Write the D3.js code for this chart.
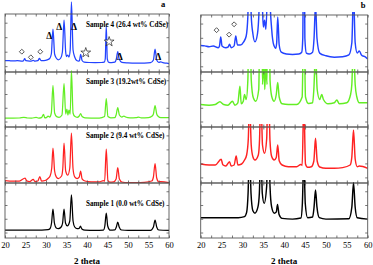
<!DOCTYPE html>
<html>
<head>
<meta charset="utf-8">
<script src="https://cdn.jsdelivr.net/npm/d3@7"></script>
<style>
  body { margin: 0; background: #fff; }
  svg { display: block; }
  text { font-family: "Liberation Serif", "Times New Roman", serif; }
</style>
</head>
<body>
<svg id="chart" width="373" height="265"></svg>
<script>
// tick labels of the 2 theta axis
const xTicks = [20, 25, 30, 35, 40, 45, 50, 55, 60];

// panels top to bottom
const sampleNames = [
  'Sample 4 (26.4 wt% CdSe)',
  'Sample 3 (19.2wt% CdSe)',
  'Sample 2 (9.4 wt% CdSe)',
  'Sample 1 (0.0 wt% CdSe)'
];
const sampleColors = ['#2343ff', '#63ee24', '#ff2222', '#000000'];

// [2 theta, intensity]
const sample4 = [[20,11.4],[21,11.3],[22,11.1],[23,11.3],[24.2,10.9],[24.5,11.3],[24.8,13.3],[25.1,11.3],[26,10.9],[26.6,11.1],[26.9,11.7],[27.3,10.9],[28,11.3],[28.4,13.5],[28.8,11.5],[29.5,11.5],[30.3,12.2],[30.9,13.5],[31.3,18],[31.7,43],[32.1,18],[32.5,14],[33,12.2],[33.6,14],[34,20],[34.4,52],[34.8,20],[35,15.5],[35.3,17],[35.6,15],[35.9,22],[36.2,70],[36.6,22],[37,15],[37.5,11.5],[38,10.8],[38.2,12],[38.45,17.7],[38.8,11.5],[39.3,9.9],[40.5,9.5],[42,9.4],[43.5,9.5],[44.2,9.9],[44.45,13],[44.7,46],[44.95,13],[45.3,9.7],[46,9.5],[46.8,9.9],[47.15,13],[47.5,20.5],[47.85,13],[48.5,9.7],[50,9.1],[52,8.8],[54,8.9],[55.5,9.3],[56.2,12],[56.6,23],[57,12],[57.5,9.7],[58,10.2],[58.5,9.3],[59.5,8.8],[60,8.4]];
const sample3 = [[20,9],[22,8.86],[23.5,9],[24.6,9.54],[25.5,9],[26.5,8.86],[27.6,9.66],[28.2,8.86],[28.9,9.34],[29.4,12.66],[29.7,9.14],[30.2,9.66],[30.5,11],[30.9,10],[31.3,14],[31.7,41.5],[32.1,14],[32.6,10.34],[33.2,9.66],[33.9,12],[34.4,43.5],[34.8,13],[35.1,18],[35.35,12],[35.6,17],[35.9,13],[36.2,56.5],[36.6,14],[37,10.66],[37.6,9.66],[38.1,11],[38.45,13.4],[38.8,10.5],[39.5,9.14],[41,9],[43,9],[44.3,10.5],[44.7,28.5],[45.1,10.5],[45.8,9.2],[46.8,9.34],[47.1,12],[47.5,19.5],[47.9,12],[48.5,10],[49,11],[49.4,10],[50.5,9.14],[52,9.34],[52.6,9.9],[53.2,9.14],[55,9.34],[55.9,11],[56.2,13],[56.6,21.5],[57,13],[57.4,10.5],[58,9.34],[60,9.34]];
const sample2 = [[20,2.5],[22,2],[23.5,2],[24.9,4.85],[25.3,2.15],[26,1.5],[26.9,3.65],[27.3,1.5],[28,2],[28.5,6.5],[28.9,2],[29.8,2.5],[30.5,4.5],[31,7],[31.4,15],[31.7,35],[32.1,12],[32.5,6.15],[33,4.5],[33.8,7],[34.1,15],[34.4,40],[34.8,12],[35.3,7.85],[35.8,15],[36.2,50],[36.6,14],[37,6.2],[37.6,4.5],[38.1,5.8],[38.45,12],[38.8,4.15],[39.5,2],[41,1.15],[43,1.15],[44,2.3],[44.3,1.8],[44.7,34],[45.1,2.5],[45.6,0.85],[46.5,1.15],[47.1,4],[47.5,15.35],[47.9,4],[48.5,1],[50,0.35],[52,0.35],[54,0.7],[55.8,2],[56.2,6],[56.6,19.5],[57,5],[57.5,1.15],[58,1.5],[60,0.35]];
const sample1 = [[20,8],[25,8],[29,8],[30.5,8.3],[31,9.5],[31.35,15],[31.7,29],[32.05,15],[32.5,10],[33,9.3],[33.7,11],[34.05,15],[34.4,29],[34.75,15],[35.2,12.1],[35.8,17],[36.2,43],[36.6,17],[37,11],[37.6,9.3],[38.1,9.6],[38.4,11.8],[38.75,9],[39.5,7.8],[42,7.6],[44,7.9],[44.35,12],[44.7,25],[45.05,12],[45.6,8],[46.8,8.2],[47.15,11],[47.5,15.9],[47.85,11],[48.4,8],[50,7.6],[55.5,7.7],[56.2,11],[56.6,18],[57,11],[57.5,8],[60,7.6]];
const samples = [sample4, sample3, sample2, sample1];

// phase markers on sample 4, [2 theta, intensity]
const diamondsA = [[24.1,20.3],[26.3,14.7],[28.6,20.3]];
const deltasA = [[30.8,37],[33.2,46],[36.8,46],[48.0,16],[57.4,16]];
const starsA = [[39.7,19.3],[45.4,30.3]];
const diamondsB = [[23.8,14.8],[26.8,13.8],[28.0,16.1]];

const svg = d3.select('#chart');

const panels = [
  { x0: 5, x1: 169, rows: [[14, 72], [72, 127], [127, 183], [183, 238]], letter: 'a', lx: 163, ly: 6.5 },
  { x0: 200.7, x1: 367.7, rows: [[15, 72], [72, 127], [127, 183], [183, 238]], letter: 'b', lx: 363, ly: 8 }
];
// vertical magnification used for panel b (per sample)
const zoomB = [{ m: 4.5, c: 5.5 }, { m: 5, c: 4.5 }, { m: 2, c: -7 }, { m: 3.5, c: 2.2 }];
const labelY = [26.5, 84, 138, 205.7];

panels.forEach((p, pi) => {
  const x = d3.scaleLinear().domain([20, 60]).range([p.x0, p.x1]);
  const g = svg.append('g');

  p.rows.forEach(([top, bottom], ri) => {
    const h = bottom - top;
    const y = pi === 0 ?
      d3.scaleLinear().domain([0, h]).range([bottom, top]) :
      d3.scaleLinear().domain([zoomB[ri].c, zoomB[ri].c + h / zoomB[ri].m]).range([bottom, top]);

    const clipId = `clip-${pi}-${ri}`;
    svg.append('clipPath').attr('id', clipId)
      .append('rect')
      .attr('x', p.x0).attr('y', pi === 0 ? 0 : top - 3)
      .attr('width', p.x1 - p.x0).attr('height', pi === 0 ? bottom : bottom - top + 3);

    const line = d3.line()
      .x(d => x(d[0]))
      .y(d => y(d[1]))
      .curve(d3.curveMonotoneX);

    g.append('path')
      .datum(samples[ri])
      .attr('clip-path', `url(#${clipId})`)
      .attr('fill', 'none')
      .attr('stroke', sampleColors[ri])
      .attr('stroke-width', pi === 0 ? 1.25 : 1.45)
      .attr('stroke-linejoin', 'round')
      .attr('d', line);

    // frame and inward ticks
    g.append('rect')
      .attr('x', p.x0).attr('y', top)
      .attr('width', p.x1 - p.x0).attr('height', h)
      .attr('fill', 'none').attr('stroke', '#555').attr('stroke-width', 0.9);

    const minor = d3.range(20, 60.01, 2.5);
    g.append('g').attr('transform', `translate(0,${bottom})`)
      .call(d3.axisTop(x).tickValues(minor).tickSize(2.5).tickFormat(''));
    g.append('g').attr('transform', `translate(0,${top})`)
      .call(d3.axisBottom(x).tickValues(minor).tickSize(2.5).tickFormat(''));

    const yt = d3.range(4).map(k => y.invert(bottom - (k + 0.4) * h / 4));
    g.append('g').attr('transform', `translate(${p.x0},0)`)
      .call(d3.axisRight(y).tickValues(yt).tickSize(2.5).tickFormat(''));
    g.append('g').attr('transform', `translate(${p.x1},0)`)
      .call(d3.axisLeft(y).tickValues(yt).tickSize(2.5).tickFormat(''));

    if (pi === 0) {
      g.append('text')
        .attr('x', 86).attr('y', labelY[ri])
        .attr('font-size', 7.2).attr('font-weight', 'bold')
        .text(sampleNames[ri]);
    }

    if (ri === 0) {
      const dia = pi === 0 ? diamondsA : diamondsB;
      g.selectAll(null).data(dia).enter().append('path')
        .attr('d', d3.symbol(d3.symbolSquare, 12))
        .attr('transform', d => `translate(${x(d[0])},${y(d[1])}) rotate(45)`)
        .attr('fill', '#fff').attr('stroke', '#222').attr('stroke-width', 0.7);
      if (pi === 0) {
        g.selectAll(null).data(deltasA).enter().append('text')
          .attr('x', d => x(d[0])).attr('y', d => y(d[1]) + 3.5)
          .attr('text-anchor', 'middle')
          .attr('font-size', 9.5).attr('font-weight', 'bold')
          .text('Δ');
        g.selectAll(null).data(starsA).enter().append('path')
          .attr('d', d3.symbol(d3.symbolStar, 30))
          .attr('transform', d => `translate(${x(d[0])},${y(d[1])})`)
          .attr('fill', '#fff').attr('stroke', '#222').attr('stroke-width', 0.7);
      }
    }
  });

  g.selectAll('.domain').remove();
  g.selectAll('.tick line').attr('stroke', '#555').attr('stroke-width', 0.8);

  const lastBottom = p.rows[p.rows.length - 1][1];
  const ax = g.append('g').attr('transform', `translate(0,${lastBottom})`)
    .call(d3.axisBottom(x).tickValues(xTicks).tickSize(0).tickPadding(4).tickFormat(d3.format('d')));
  ax.select('.domain').remove();
  ax.selectAll('text')
    .attr('font-family', '"Liberation Serif", serif')
    .attr('font-size', 8.5).attr('fill', '#000');

  g.append('text')
    .attr('x', (p.x0 + p.x1) / 2).attr('y', 263.5)
    .attr('text-anchor', 'middle')
    .attr('font-size', 9).attr('font-weight', 'bold')
    .text('2 theta');

  g.append('text')
    .attr('x', p.lx).attr('y', p.ly)
    .attr('text-anchor', 'middle')
    .attr('font-size', 8.5).attr('font-weight', 'bold')
    .text(p.letter);
});
</script>
</body>
</html>
